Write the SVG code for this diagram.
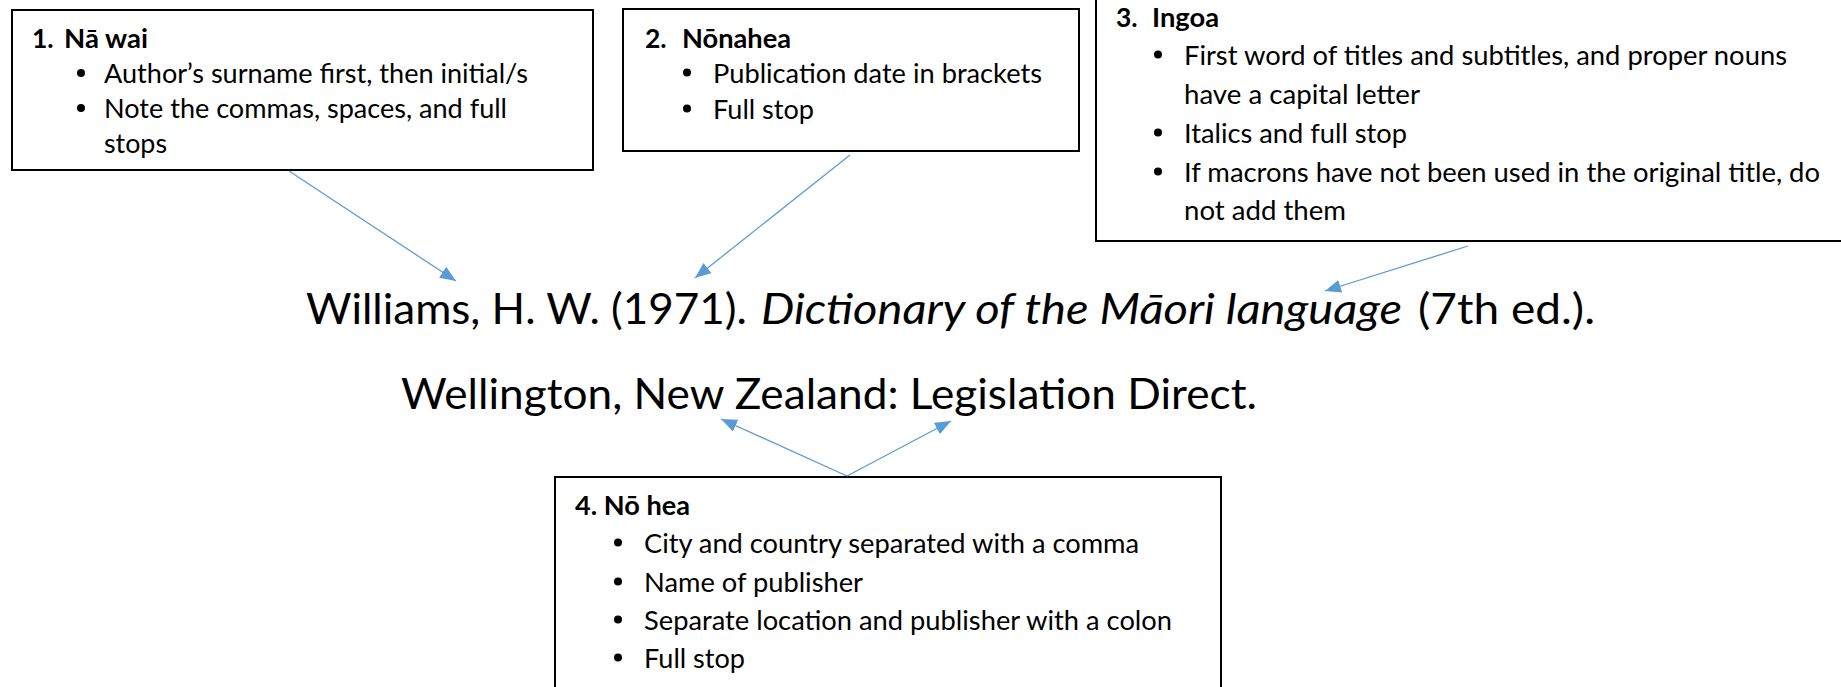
<svg xmlns="http://www.w3.org/2000/svg" width="1841" height="687" viewBox="0 0 1841 687">
<style>
.box{fill:#fff;stroke:#000;stroke-width:2}
.t{font-family:"Lato","Liberation Sans",sans-serif;font-size:26.5px;fill:#000}
.h{font-family:"Lato","Liberation Sans",sans-serif;font-size:26.5px;font-weight:bold;fill:#000}
.m{font-family:"Lato","Liberation Sans",sans-serif;font-size:43px;fill:#000}
.mi{font-family:"Lato","Liberation Sans",sans-serif;font-size:43px;font-style:italic;fill:#000}
.b{fill:#000}
.c{stroke:#5B9BD5;stroke-width:1.3;fill:none;marker-end:url(#ah)}
</style>
<defs>
<marker id="ah" markerUnits="userSpaceOnUse" markerWidth="17" markerHeight="13" refX="16" refY="6.5" orient="auto">
<path d="M0,0 L16,6.5 L0,13 z" fill="#5B9BD5"/>
</marker>
</defs>
<rect width="1841" height="687" fill="#fff"/>
<g id="node1">
<rect class="box" x="12" y="10" width="581" height="160"/>
<text class="h" x="32" y="48">1.</text>
<text class="h" x="64" y="48" textLength="84" lengthAdjust="spacingAndGlyphs">Nā wai</text>
<circle class="b" cx="81" cy="73" r="4"/>
<text class="t" x="104" y="83" textLength="424" lengthAdjust="spacingAndGlyphs">Author’s surname first, then initial/s</text>
<circle class="b" cx="81" cy="108" r="4"/>
<text class="t" x="104" y="118" textLength="403" lengthAdjust="spacingAndGlyphs">Note the commas, spaces, and full</text>
<text class="t" x="104" y="153" textLength="63" lengthAdjust="spacingAndGlyphs">stops</text>
</g>
<g id="node2">
<rect class="box" x="623" y="9" width="456" height="142"/>
<text class="h" x="645" y="48">2.</text>
<text class="h" x="682" y="48" textLength="109" lengthAdjust="spacingAndGlyphs">Nōnahea</text>
<circle class="b" cx="687" cy="72.5" r="4"/>
<text class="t" x="713" y="83" textLength="329" lengthAdjust="spacingAndGlyphs">Publication date in brackets</text>
<circle class="b" cx="687" cy="108.5" r="4"/>
<text class="t" x="713" y="119" textLength="101" lengthAdjust="spacingAndGlyphs">Full stop</text>
</g>
<g id="node3">
<rect class="box" x="1096" y="-10" width="760" height="251"/>
<text class="h" x="1116" y="27">3.</text>
<text class="h" x="1152" y="27" textLength="67" lengthAdjust="spacingAndGlyphs">Ingoa</text>
<circle class="b" cx="1158" cy="54.5" r="4"/>
<text class="t" x="1184" y="65" textLength="603" lengthAdjust="spacingAndGlyphs">First word of titles and subtitles, and proper nouns</text>
<text class="t" x="1184" y="104" textLength="236" lengthAdjust="spacingAndGlyphs">have a capital letter</text>
<circle class="b" cx="1158" cy="132.5" r="4"/>
<text class="t" x="1184" y="143" textLength="223" lengthAdjust="spacingAndGlyphs">Italics and full stop</text>
<circle class="b" cx="1158" cy="171.5" r="4"/>
<text class="t" x="1184" y="182" textLength="636" lengthAdjust="spacingAndGlyphs">If macrons have not been used in the original title, do</text>
<text class="t" x="1184" y="220" textLength="162" lengthAdjust="spacingAndGlyphs">not add them</text>
</g>
<g id="node4">
<rect class="box" x="555" y="477" width="666" height="230"/>
<text class="h" x="575" y="515" textLength="115" lengthAdjust="spacingAndGlyphs">4. Nō hea</text>
<circle class="b" cx="618" cy="542.5" r="4"/>
<text class="t" x="644" y="553" textLength="495" lengthAdjust="spacingAndGlyphs">City and country separated with a comma</text>
<circle class="b" cx="618" cy="581.5" r="4"/>
<text class="t" x="644" y="592" textLength="219" lengthAdjust="spacingAndGlyphs">Name of publisher</text>
<circle class="b" cx="618" cy="619.5" r="4"/>
<text class="t" x="644" y="630" textLength="528" lengthAdjust="spacingAndGlyphs">Separate location and publisher with a colon</text>
<circle class="b" cx="618" cy="657.5" r="4"/>
<text class="t" x="644" y="668" textLength="101" lengthAdjust="spacingAndGlyphs">Full stop</text>
</g>
<g id="citation">
<text class="m" x="306" y="324" textLength="441" lengthAdjust="spacingAndGlyphs">Williams, H. W. (1971).</text>
<text class="mi" x="761" y="324" textLength="641" lengthAdjust="spacingAndGlyphs">Dictionary of the Māori language</text>
<text class="m" x="1418" y="324" textLength="177" lengthAdjust="spacingAndGlyphs">(7th ed.).</text>
<text class="m" x="401" y="409" textLength="856" lengthAdjust="spacingAndGlyphs">Wellington, New Zealand: Legislation Direct.</text>
</g>
<g id="connectors">
<path class="c" d="M289,171 L456,281"/>
<path class="c" d="M850,155 L695,278"/>
<path class="c" d="M1468,246 L1325,291"/>
<path class="c" d="M847,476 L721,419"/>
<path class="c" d="M847,476 L951,421"/>
</g>
</svg>
